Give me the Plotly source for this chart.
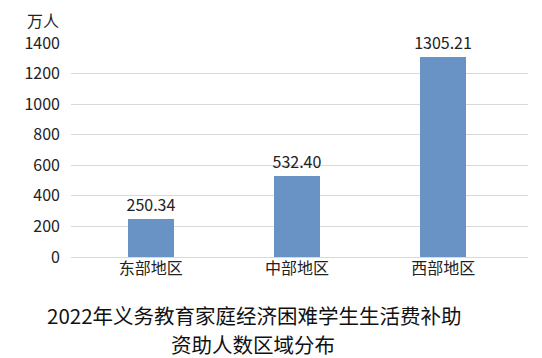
import plotly.graph_objects as go

categories = ["东部地区", "中部地区", "西部地区"]
values = [250.34, 532.40, 1305.21]
y_ticks = [0, 200, 400, 600, 800, 1000, 1200, 1400]
unit_label = "万人"
title_line1 = "2022年义务教育家庭经济困难学生生活费补助"
title_line2 = "资助人数区域分布"

FONT = "Noto Sans CJK SC, Microsoft YaHei, sans-serif"

fig = go.Figure(go.Bar(
    x=[0, 1, 2],
    y=values,
    width=0.315,
    marker=dict(color="#6A93C5", line=dict(width=0)),
    texttemplate="%{y:.2f}",
    textposition="outside",
    constraintext="none",
    cliponaxis=False,
    textfont=dict(family=FONT, size=16, color="#222222"),
))

fig.update_layout(
    width=542, height=358,
    margin=dict(l=71, r=14, t=43, b=101),
    paper_bgcolor="white", plot_bgcolor="white",
    showlegend=False,
    font=dict(family=FONT, size=16, color="#222222"),
    bargap=0,
    uniformtext=dict(mode=False),
)
fig.update_xaxes(
    range=[-0.545, 2.58],
    tickvals=[0, 1, 2], ticktext=categories,
    showgrid=False, showline=False, zeroline=False, ticks="",
    tickfont=dict(family=FONT, size=16, color="#222222"),
)
fig.update_yaxes(
    range=[0, 1400], tickvals=y_ticks,
    showgrid=True, gridcolor="#d9d9d9", gridwidth=1,
    zeroline=True, zerolinecolor="#d9d9d9", zerolinewidth=1,
    showline=False, ticks="", ticklabelstandoff=10,
    tickfont=dict(family=FONT, size=16, color="#222222"),
)
fig.add_annotation(text=unit_label, xref="paper", yref="paper",
                   x=-0.0219, y=1 + (43 - 20) / 214, xanchor="right", yanchor="middle",
                   showarrow=False, font=dict(family=FONT, size=16, color="#222222"))
fig.add_annotation(text=title_line1, xref="paper", yref="paper",
                   x=(254 - 71) / 457, y=-(315 - 257) / 214, xanchor="center", yanchor="middle",
                   showarrow=False, font=dict(family=FONT, size=20.5, color="#111111"))
fig.add_annotation(text=title_line2, xref="paper", yref="paper",
                   x=(253 - 71) / 457, y=-(344 - 257) / 214, xanchor="center", yanchor="middle",
                   showarrow=False, font=dict(family=FONT, size=20.5, color="#111111"))

fig.write_html("out.html")
